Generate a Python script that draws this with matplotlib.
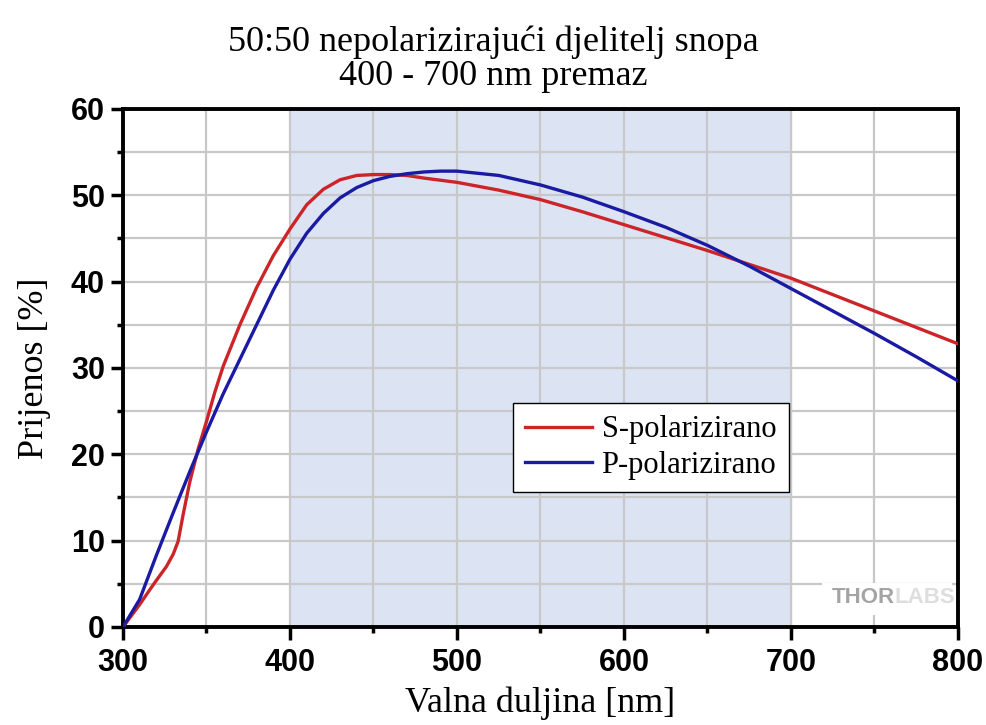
import matplotlib.pyplot as plt
from matplotlib.patches import Rectangle
from matplotlib.ticker import MultipleLocator

# wavelength [nm] and transmission [%]
wl_s = [300, 310, 316, 320, 326, 330, 333, 336, 340, 345, 350, 355, 360, 370, 380, 390, 400, 410, 420, 430, 440,
        450, 460, 470, 480, 500, 525, 550, 575, 600, 625, 650, 675, 700, 725, 750, 775, 800]
s_pol = [0, 2.6, 4.3, 5.4, 7.0, 8.4, 9.9, 13.0, 16.8, 20.6, 23.8, 27.2, 30.2, 35.0, 39.3, 43, 46.1, 48.9, 50.7, 51.8, 52.3,
         52.4, 52.4, 52.3, 52.0, 51.5, 50.6, 49.5, 48.1, 46.6, 45.1, 43.6, 42.0, 40.4, 38.5, 36.6, 34.7, 32.8]

wl_p = [300, 310, 320, 330, 340, 350, 360, 370, 380, 390, 400, 410, 420, 430, 440,
        450, 460, 470, 480, 490, 500, 525, 550, 575, 600, 625, 650, 675, 700, 725, 750, 775, 800]
p_pol = [0, 3.2, 8.3, 13.2, 18.0, 22.6, 27, 31, 35, 39, 42.6, 45.6, 47.9, 49.7, 50.9,
         51.7, 52.2, 52.5, 52.7, 52.8, 52.8, 52.3, 51.2, 49.8, 48.1, 46.3, 44.2, 41.8, 39.2, 36.6, 34.0, 31.3, 28.5]

band = (400, 700)

plt.rcParams['font.family'] = ['Liberation Serif', 'DejaVu Serif']

fig = plt.figure(figsize=(9.87, 7.25), dpi=100)
ax = fig.add_axes([0.1246, 0.1352, 0.846, 0.7145])

ax.axvspan(band[0], band[1], color='#dce4f4', zorder=0)
ax.plot(wl_s, s_pol, color='#cc2529', lw=2.4, label='S-polarizirano', zorder=3)
ax.plot(wl_p, p_pol, color='#1a1aa2', lw=2.4, label='P-polarizirano', zorder=3)

ax.set_xlim(300, 800)
ax.set_ylim(0, 60)
ax.xaxis.set_major_locator(MultipleLocator(100))
ax.xaxis.set_minor_locator(MultipleLocator(50))
ax.yaxis.set_major_locator(MultipleLocator(10))
ax.yaxis.set_minor_locator(MultipleLocator(5))
ax.grid(True, which='both', color='#c8c8c8', lw=1.6)
ax.set_axisbelow(True)

for sp in ax.spines.values():
    sp.set_linewidth(2.8)
ax.tick_params(which='major', direction='out', length=9, width=2.5, top=False, right=False,
               labelsize=22)
ax.tick_params(which='minor', direction='out', length=4, width=2.5, top=False, right=False)
ax.tick_params(axis='x', which='major', pad=6)
ax.tick_params(axis='y', which='major', pad=4)
for lab in ax.get_xticklabels() + ax.get_yticklabels():
    lab.set_fontfamily('Liberation Sans')
    lab.set_fontweight('bold')

ax.set_xlabel('Valna duljina [nm]', fontsize=26, labelpad=6)
ax.set_ylabel('Prijenos [%]', fontsize=26, labelpad=14)
fig.suptitle('50:50 nepolarizirajući djelitelj snopa\n400 - 700 nm premaz',
             fontsize=26, y=0.965, va='top', linespacing=1.05)

leg = ax.legend(loc='upper left', bbox_to_anchor=(0.467, 0.432), fontsize=22,
                frameon=True, fancybox=False, edgecolor='black', framealpha=1,
                handlelength=2.2, borderpad=0.4, labelspacing=0.2, handletextpad=0.3,
                borderaxespad=0)
leg.get_frame().set_linewidth(1.0)

# logo patch
ax.add_patch(Rectangle((0.837, 0.023), 0.156, 0.062, transform=ax.transAxes,
                       facecolor='white', edgecolor='none', zorder=1))
ax.text(762, 3.4, 'THOR', ha='right', va='center', fontsize=16, fontweight='bold',
        color='#a4a4a4', family='Liberation Sans', zorder=2)
ax.text(762, 3.4, 'LABS', ha='left', va='center', fontsize=16, fontweight='bold',
        color='#dedede', family='Liberation Sans', zorder=2)

fig.savefig('out.png', dpi=100)
